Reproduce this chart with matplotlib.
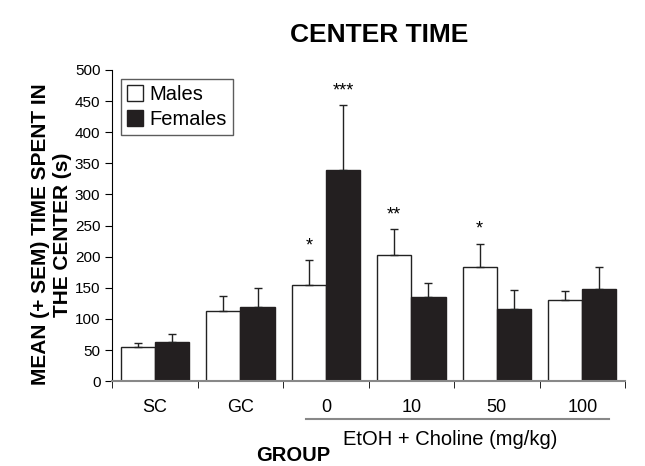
import numpy as np
import matplotlib.pyplot as plt

plt.rcParams['font.family'] = ['Liberation Sans', 'DejaVu Sans']

groups = ['SC', 'GC', '0', '10', '50', '100']
males = [55, 113, 155, 203, 184, 130]
males_sem = [7, 24, 39, 41, 37, 15]
females = [63, 119, 340, 136, 116, 148]
females_sem = [12, 31, 103, 21, 31, 36]
male_stars = ['', '', '*', '**', '*', '']
female_stars = ['', '', '***', '', '', '']

fig = plt.figure(figsize=(6.45, 4.66), dpi=100)
ax = fig.add_axes([0.174, 0.182, 0.795, 0.668])

x = np.arange(len(groups))
w = 0.4
ekw = dict(elinewidth=1, capthick=1, ecolor='#222222')
ax.bar(x - w/2, males, w, color='white', edgecolor='#222222', linewidth=1,
       yerr=[np.zeros(len(x)), males_sem], capsize=3, error_kw=ekw, label='Males')
ax.bar(x + w/2, females, w, color='#231f20', edgecolor='#231f20', linewidth=1,
       yerr=[np.zeros(len(x)), females_sem], capsize=3, error_kw=ekw, label='Females')

for i in range(len(x)):
    if male_stars[i]:
        ax.text(x[i] - w/2, males[i] + males_sem[i] + 10, male_stars[i],
                ha='center', va='bottom', fontsize=13)
    if female_stars[i]:
        ax.text(x[i] + w/2, females[i] + females_sem[i] + 10, female_stars[i],
                ha='center', va='bottom', fontsize=13)

ax.set_xlim(-0.5, len(x) - 0.5)
ax.set_ylim(0, 500)
ax.set_yticks(np.arange(0, 501, 50))
ax.tick_params(axis='y', direction='out', length=5, labelsize=11)
ax.set_xticks(x)
ax.set_xticklabels(groups, fontsize=13)
ax.tick_params(axis='x', length=0, pad=13)
ax.set_xticks(np.arange(-0.5, len(x), 1), minor=True)
ax.tick_params(axis='x', which='minor', direction='out', length=5)
ax.spines['top'].set_visible(False)
ax.spines['right'].set_visible(False)
ax.spines['bottom'].set_color('#888888')
ax.spines['bottom'].set_linewidth(1.5)

ax.set_title('CENTER TIME', fontsize=19, fontweight='bold', pad=20, x=0.52)
fig.text(0.080, 0.497, 'MEAN (+ SEM) TIME SPENT IN\nTHE CENTER (s)', fontsize=15,
         fontweight='bold', rotation=90, ha='center', va='center',
         multialignment='center', linespacing=1.2)

# bracket for EtOH + Choline groups
ax.plot([1.77, 5.31], [-60, -60], color='#888888', lw=1.5, clip_on=False)
ax.text(3.45, -78, 'EtOH + Choline (mg/kg)', ha='center', va='top', fontsize=14.5)
fig.text(0.454, 0.003, 'GROUP', ha='center', va='bottom', fontsize=14.5,
         fontweight='bold')

leg = ax.legend(loc='upper left', fontsize=14.5, fancybox=False, edgecolor='#333333',
                handlelength=0.8, handleheight=0.8, handletextpad=0.3,
                borderpad=0.3, labelspacing=0.3, borderaxespad=0.45)
leg.get_frame().set_linewidth(1)

plt.savefig('out.png', dpi=100)
